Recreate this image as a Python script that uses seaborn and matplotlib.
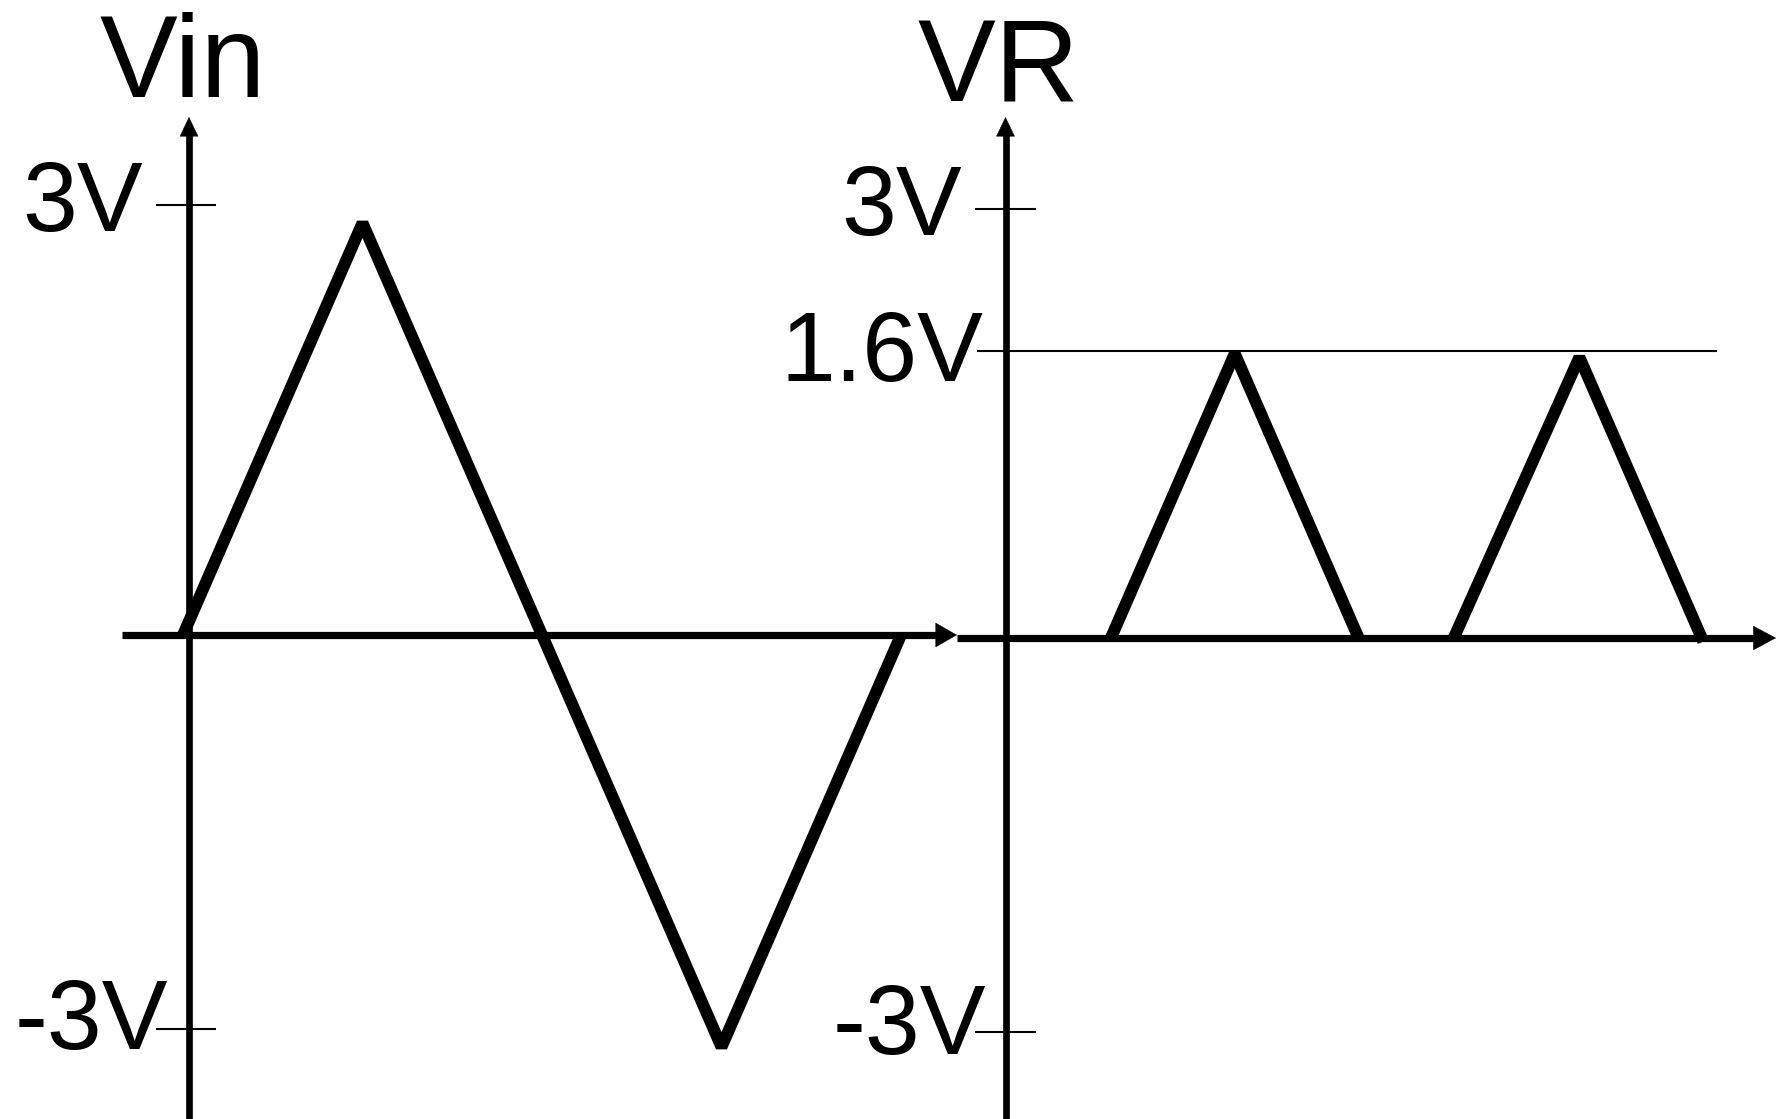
import matplotlib
matplotlib.use("Agg")
import matplotlib.pyplot as plt
import seaborn as sns
import pandas as pd

# ---------------- data ----------------
vin_time = [0, 1, 2, 3, 4]
vin_volts = [0, 3, 0, -3, 0]

vr_pulse = [1, 1, 1, 2, 2, 2]
vr_time = [0.59, 1.28, 1.97, 2.50, 3.20, 3.89]
vr_volts = [0, 1.585, 0, 0, 1.565, -0.02]
vr_ref_level = 1.6

vin_title = "Vin"
vr_title = "VR"
vin_tick_labels = ["3V", "-3V"]
vr_tick_labels = ["3V", "1.6V", "-3V"]

# ---------------- style ----------------
sns.set_style("white")
plt.rcParams['font.family'] = ['Liberation Sans', 'DejaVu Sans']

W, H = 1777, 1119
DPI = 100
fig = plt.figure(figsize=(W / DPI, H / DPI), dpi=DPI)
fig.patch.set_facecolor("white")


def make_axes(x0px, y0px, sx, sy):
    ax = fig.add_axes([0, 0, 1, 1])
    ax.set_xlim((0 - x0px) / sx, (W - x0px) / sx)
    ax.set_ylim((y0px - H) / sy, y0px / sy)
    ax.axis("off")
    ax.patch.set_alpha(0)
    return ax


def fx(ax, px):
    x0, x1 = ax.get_xlim()
    return x0 + (x1 - x0) * px / W


def fy(ax, py):
    y0, y1 = ax.get_ylim()
    return y1 - (y1 - y0) * py / H


def arrow_head(ax, tip, back, hl, hw):
    ax.annotate("", xy=tip, xytext=back, xycoords="data",
                arrowprops=dict(arrowstyle=f"-|>,head_length={hl},head_width={hw}",
                                mutation_scale=1, lw=0.3, color="black",
                                shrinkA=0, shrinkB=0))


AX_LW_H = 5.2
AX_LW_V = 4.8
WAVE_LW = 8.6
TICK_LW = 1.5

LX0, LY0, LSX, LSY = 183, 635, 179.5, 137.33
RX0, RY0, RSX, RSY = 1005, 638, 179.5, 179.4
axL = make_axes(LX0, LY0, LSX, LSY)
axR = make_axes(RX0, RY0, RSX, RSY)

# ---- left axes lines ----
axL.plot([fx(axL, 122), fx(axL, 940)], [0, 0], color="black", lw=AX_LW_H,
         solid_capstyle="butt")
arrow_head(axL, (fx(axL, 957), 0), (fx(axL, 945), 0), 15.0, 8.6)
vxL = fx(axL, 189)
axL.plot([vxL, vxL], [fy(axL, 1125), fy(axL, 132)], color="black", lw=AX_LW_V,
         solid_capstyle="butt")
arrow_head(axL, (vxL, fy(axL, 117)), (vxL, fy(axL, 128)), 13.5, 6.5)

# ---- right axes lines ----
axR.plot([fx(axR, 957), fx(axR, 1758)], [0, 0], color="black", lw=AX_LW_H,
         solid_capstyle="butt")
arrow_head(axR, (fx(axR, 1776), 0), (fx(axR, 1762), 0), 16.0, 8.6)
vxR = fx(axR, 1005.5)
axR.plot([vxR, vxR], [fy(axR, 1125), fy(axR, 132)], color="black", lw=AX_LW_V,
         solid_capstyle="butt")
arrow_head(axR, (vxR, fy(axR, 117)), (vxR, fy(axR, 128)), 13.5, 6.5)

# ---- ticks ----
vin_tick_pos = [fy(axL, 205), fy(axL, 1029)]
axL.hlines(vin_tick_pos, fx(axL, 156), fx(axL, 216), color="black", lw=TICK_LW)
vr_tick_pos = [fy(axR, 209), fy(axR, 1032)]
axR.hlines(vr_tick_pos, fx(axR, 975), fx(axR, 1036), color="black", lw=TICK_LW)
axR.hlines([vr_ref_level], fx(axR, 977), fx(axR, 1717), color="black", lw=TICK_LW)

# ---- waveforms ----
df_in = pd.DataFrame({"t": vin_time, "v": vin_volts})
sns.lineplot(data=df_in, x="t", y="v", ax=axL, color="black", lw=WAVE_LW,
             estimator=None, sort=False)
for line in axL.lines[-1:]:
    line.set_solid_joinstyle("bevel")
    line.set_solid_capstyle("butt")

df_r = pd.DataFrame({"pulse": vr_pulse, "t": vr_time, "v": vr_volts})
n_before = len(axR.lines)
sns.lineplot(data=df_r, x="t", y="v", units="pulse", ax=axR, color="black",
             lw=WAVE_LW, estimator=None, sort=False)
for line in axR.lines[n_before:]:
    line.set_solid_joinstyle("bevel")
    line.set_solid_capstyle("butt")

axL.set_xlim((0 - LX0) / LSX, (W - LX0) / LSX)
axL.set_ylim((LY0 - H) / LSY, LY0 / LSY)
axR.set_xlim((0 - RX0) / RSX, (W - RX0) / RSX)
axR.set_ylim((RY0 - H) / RSY, RY0 / RSY)
for ax in (axL, axR):
    ax.axis("off")
    if ax.get_legend() is not None:
        ax.get_legend().remove()


# ---- texts ----
def ftext(px, py, s, size, ha):
    fig.text(px / W, 1 - py / H, s, fontsize=size, ha=ha, va="baseline",
             color="black")


ftext(99, 97, vin_title, 84, "left")
ftext(917, 101, vr_title, 84, "left")
ftext(143, 231, vin_tick_labels[0], 71, "right")
ftext(168, 1049, vin_tick_labels[1], 71, "right")
ftext(962, 235, vr_tick_labels[0], 71, "right")
ftext(983, 381, vr_tick_labels[1], 71, "right")
ftext(986, 1054, vr_tick_labels[2], 71, "right")

fig.savefig("out.png", dpi=DPI, facecolor="white")
